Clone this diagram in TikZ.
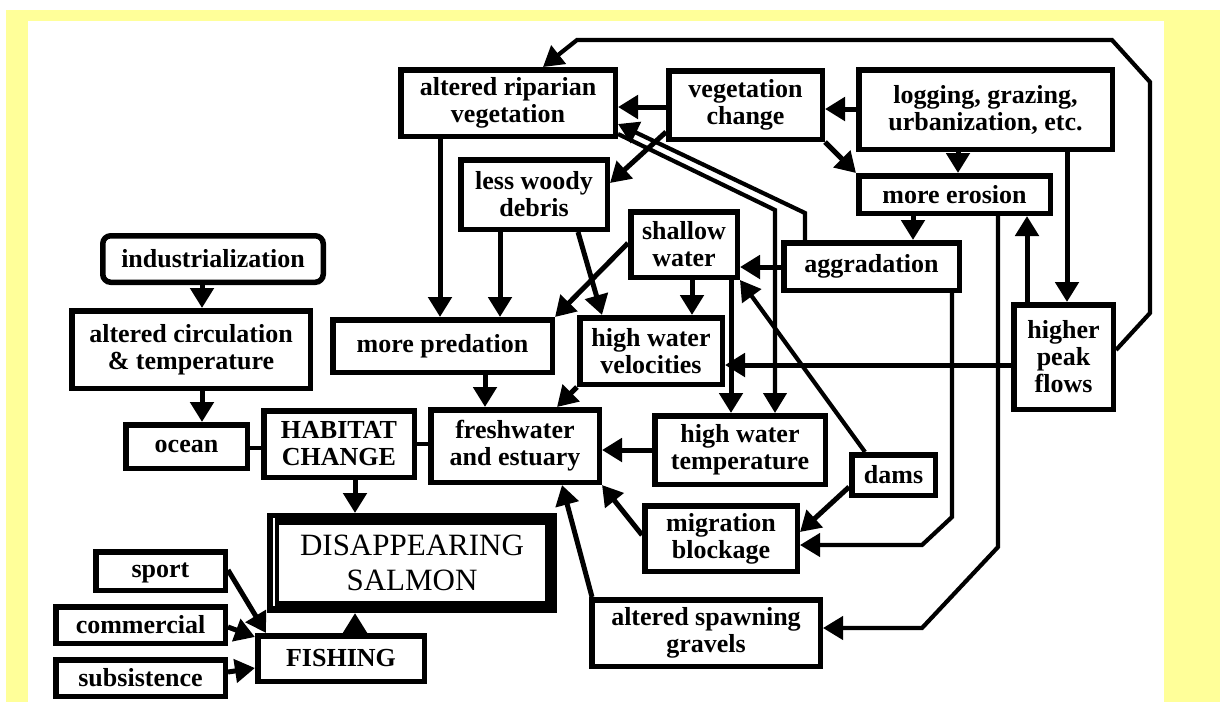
\documentclass[tikz,border=0pt]{standalone}
\usepackage{fontspec}
\setmainfont{Liberation Serif}
\usetikzlibrary{arrows.meta}
\definecolor{bgyellow}{RGB}{255,255,153}
\begin{document}
\begin{tikzpicture}[x=1pt,y=-1pt,
  box/.style={draw, fill=white, line width=5.5pt, inner sep=0pt, align=center,
    font=\fontsize{26}{27}\selectfont\bfseries},
  arr/.style={line width=5pt, -{Triangle[width=23pt,length=20pt]}},
  thinarr/.style={line width=4.2pt, -{Triangle[width=23pt,length=20pt]}},
  link/.style={line width=4.5pt}]
\useasboundingbox (0,0) rectangle (1220,702);
\fill[bgyellow] (6,10) rectangle (1220,702);
\fill[white] (28,21) rectangle (1164,702);

% nodes
\node[box, minimum width=214.5pt, minimum height=66.5pt] (arv) at (508,103) {altered riparian\\vegetation};
\node[box, minimum width=153.5pt, minimum height=68.5pt] (vc) at (745.5,105) {vegetation\\change};
\node[box, minimum width=253.5pt, minimum height=79.5pt] (log) at (985.5,109.5) {logging, grazing,\\urbanization, etc.};
\node[box, minimum width=191.5pt, minimum height=37.5pt] (ero) at (954.5,194.5) {more erosion};
\node[box, minimum width=175.5pt, minimum height=47.5pt] (agg) at (871.5,266.5) {aggradation};
\node[box, minimum width=146.5pt, minimum height=69.5pt] (lwd) at (534,194.5) {less woody\\debris};
\node[box, minimum width=106.5pt, minimum height=65.5pt] (sw) at (684,244.5) {shallow\\water};
\node[box, minimum width=142.5pt, minimum height=66.5pt] (hwv) at (651,351) {high water\\velocities};
\node[box, minimum width=219.5pt, minimum height=52.5pt] (pred) at (442.5,346) {more predation};
\node[box, minimum width=99.5pt, minimum height=104.5pt] (hpf) at (1063.5,357) {higher\\peak\\flows};
\node[box, rounded corners=8pt, minimum width=220.5pt, minimum height=46.5pt] (ind) at (213,259) {industrialization};
\node[box, minimum width=238.5pt, minimum height=77.5pt] (circ) at (191,349.5) {altered circulation\\\& temperature};
\node[box, minimum width=121.5pt, minimum height=43.5pt] (ocean) at (186.5,446.5) {ocean};
\node[box, minimum width=150.5pt, minimum height=66.5pt] (hab) at (339,444) {HABITAT\\CHANGE};
\node[box, minimum width=168.5pt, minimum height=72.5pt] (fresh) at (515,446) {freshwater\\and estuary};
\node[box, minimum width=170.5pt, minimum height=68.5pt] (hwt) at (740,450) {high water\\temperature};
\node[box, minimum width=83.5pt, minimum height=40.5pt] (dams) at (893.5,475) {dams};
\node[box, minimum width=152.5pt, minimum height=65.5pt] (mig) at (721,538.5) {migration\\blockage};
\node[box, minimum width=228.5pt, minimum height=66.5pt] (spawn) at (706,633) {altered spawning\\gravels};
\node[box, line width=12pt, minimum width=278pt, minimum height=88pt,
  font=\fontsize{31}{35}\selectfont] (sal) at (412,563) {DISAPPEARING\\SALMON};
\draw[white, line width=1.5pt] (274,518) -- (274,606);
\node[box, minimum width=166.5pt, minimum height=45.5pt] (fish) at (341,658.5) {FISHING};
\node[box, minimum width=129.5pt, minimum height=38.5pt, text depth=2pt] (sport) at (160.5,571) {sport};
\node[box, minimum width=169.5pt, minimum height=36.5pt] (comm) at (140.5,625) {commercial};
\node[box, minimum width=169.5pt, minimum height=36.5pt] (subs) at (140.5,678) {subsistence};

% connectors
\draw[thinarr] (hpf.east |- 0,350) -- (1150,313) -- (1150,82) -- (1112,40) -- (577,40) -- (arv.north -| 543,0);
\draw[arr] (vc.west |- 0,107) -- (arv.east |- 0,107);
\draw[arr] (log.west |- 0,109) -- (vc.east |- 0,109);
\draw[arr] (log.south -| 958,0) -- (ero.north -| 958,0);
\draw[arr] (log.south -| 1067,0) -- (hpf.north -| 1067,0);
\draw[arr] (vc.south east) -- (ero.north west);
\draw[arr] (vc.west |- 0,132) -- (lwd.east |- 0,183);
\draw[arr] (ero.south -| 913,0) -- (agg.north -| 913,0);
\draw[arr] (hpf.north -| 1027,0) -- (ero.south -| 1027,0);
\draw[arr] (agg.west |- 0,267) -- (sw.east |- 0,267);
\draw[thinarr] (agg.north -| 805,0) -- (805,213) -- (arv.east |- 0,124);
\draw[thinarr] (arv.east |- 0,134) -- (775,210) -- (hwt.north -| 775,0);
\draw[arr] (arv.south -| 440,0) -- (pred.north -| 440,0);
\draw[arr] (lwd.south -| 500,0) -- (pred.north -| 500,0);
\draw[arr] (lwd.south -| 578,0) -- (hwv.north -| 602,0);
\draw[arr] (sw.west |- 0,243) -- (pred.north east);
\draw[arr] (sw.south -| 692,0) -- (hwv.north -| 692,0);
\draw[arr] (sw.south -| 731,0) -- (hwt.north -| 731,0);
\draw[arr] (hpf.west |- 0,365) -- (hwv.east |- 0,365);
\draw[thinarr] (dams.north -| 865,0) -- (sw.south east);
\draw[arr] (dams.west |- 0,487) -- (mig.east |- 0,532);
\draw[thinarr] (agg.south -| 952,0) -- (952,517) -- (922,545) -- (mig.east |- 0,545);
\draw[thinarr] (ero.south -| 998,0) -- (998,547) -- (922,628) -- (spawn.east |- 0,628);
\draw[arr] (hwv.south west) -- (fresh.north -| 557,0);
\draw[arr] (pred.south -| 485,0) -- (fresh.north -| 485,0);
\draw[arr] (hwt.west |- 0,450) -- (fresh.east |- 0,450);
\draw[arr] (mig.west |- 0,535) -- (fresh.south east);
\draw[arr] (spawn.north -| 592,0) -- (fresh.south -| 562,0);
\draw[link] (ocean.east |- 0,448) -- (hab.west |- 0,448);
\draw[link] (hab.east |- 0,444) -- (fresh.west |- 0,444);
\draw[arr] (ind.south -| 202,0) -- (circ.north -| 202,0);
\draw[arr] (circ.south -| 202,0) -- (ocean.north -| 202,0);
\draw[arr] (hab.south -| 355,0) -- (sal.north -| 355,0);
\draw[arr] (fish.north -| 355,0) -- (sal.south -| 355,0);
\draw[arr] (sport.east |- 0,570) -- (fish.north -| 266,0);
\draw[arr] (comm.east |- 0,627) -- (fish.west |- 0,637);
\draw[arr] (subs.east |- 0,672) -- (fish.west |- 0,668);
\end{tikzpicture}
\end{document}
